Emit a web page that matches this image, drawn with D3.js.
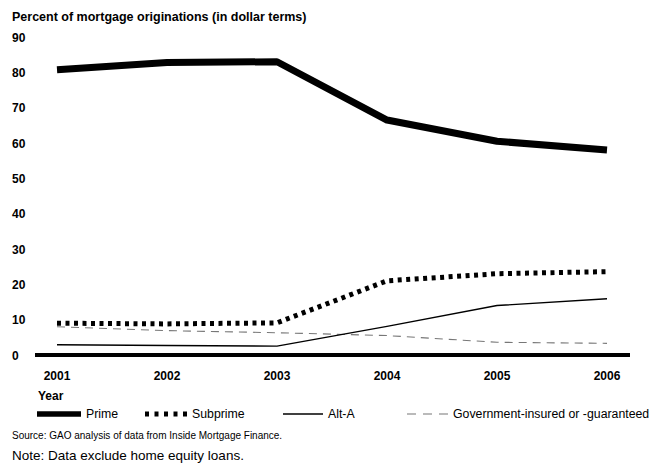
<!DOCTYPE html>
<html>
<head>
<meta charset="utf-8">
<script src="https://cdn.jsdelivr.net/npm/d3@7"></script>
<style>
  body { margin: 0; background: #fff; }
  text { font-family: "Liberation Sans", Arial, sans-serif; }
</style>
</head>
<body>
<svg width="661" height="464"></svg>
<script>
const years = [2001, 2002, 2003, 2004, 2005, 2006];
const prime = [80.7, 82.8, 83.0, 66.5, 60.5, 58.0];
const subprime = [9.0, 8.8, 9.1, 21.0, 23.0, 23.6];
const altA = [2.9, 2.7, 2.5, 8.1, 14.0, 15.9];
const government = [8.0, 6.9, 6.3, 5.5, 3.6, 3.3];
const yTicks = [0, 10, 20, 30, 40, 50, 60, 70, 80, 90];

const seriesList = [
    {name: "Prime", values: prime, width: 7, color: "#000", dash: null},
    {name: "Subprime", values: subprime, width: 5, color: "#000", dash: "4,4.5"},
    {name: "Alt-A", values: altA, width: 1.4, color: "#000", dash: null},
    {name: "Government-insured or -guaranteed", values: government, width: 1.1, color: "#777", dash: "8,6"}
];

const svg = d3.select("svg");

const x = d3.scalePoint().domain(years).range([57, 607]);
const y = d3.scaleLinear().domain([0, 90]).range([355, 37]);

svg.append("text")
    .attr("x", 12).attr("y", 21)
    .attr("font-size", 12.5).attr("font-weight", "bold")
    .text("Percent of mortgage originations (in dollar terms)");

// y tick labels
svg.append("g").selectAll("text").data(yTicks).join("text")
    .attr("x", 12).attr("y", d => y(d) + 4.5)
    .attr("font-size", 12).attr("font-weight", "bold")
    .text(d => d);

// x tick labels
svg.append("g").selectAll("text").data(years).join("text")
    .attr("x", d => x(d)).attr("y", 380)
    .attr("text-anchor", "middle")
    .attr("font-size", 12).attr("font-weight", "bold")
    .text(d => d);

svg.append("text")
    .attr("x", 38).attr("y", 400)
    .attr("font-size", 12).attr("font-weight", "bold")
    .text("Year");

const line = d3.line().x((d, i) => x(years[i])).y(d => y(d));

// lines, thin ones first so the thick ones sit on top
seriesList.slice().reverse().forEach(s => {
    svg.append("path")
        .datum(s.values)
        .attr("fill", "none")
        .attr("stroke", s.color)
        .attr("stroke-width", s.width)
        .attr("stroke-dasharray", s.dash)
        .attr("stroke-linejoin", "round")
        .attr("d", line);
});

// zero axis line
svg.append("line")
    .attr("x1", 35).attr("x2", 630)
    .attr("y1", y(0)).attr("y2", y(0))
    .attr("stroke", "#000").attr("stroke-width", 4);

// legend
const legendX = [37, 145, 283, 407];
const legendW = [44, 42, 40, 41];
const legendGap = [5, 5, 5, 5];
const legendDash = [null, "4,5.5", null, "9,7"];
const legend = svg.append("g").selectAll("g").data(seriesList).join("g")
    .attr("transform", (d, i) => `translate(${legendX[i]},418)`);
legend.append("line")
    .attr("x1", 0).attr("x2", (d, i) => legendW[i])
    .attr("y1", -4).attr("y2", -4)
    .attr("stroke", d => d.color)
    .attr("stroke-width", d => d.name === "Prime" ? 5.5 : d.width)
    .attr("stroke-dasharray", (d, i) => legendDash[i]);
legend.append("text")
    .attr("x", (d, i) => legendW[i] + legendGap[i])
    .attr("y", 0)
    .attr("font-size", 12.3)
    .text(d => d.name);

svg.append("text")
    .attr("x", 12).attr("y", 439)
    .attr("font-size", 10)
    .text("Source: GAO analysis of data from Inside Mortgage Finance.");

svg.append("text")
    .attr("x", 12).attr("y", 460)
    .attr("font-size", 13.5)
    .text("Note: Data exclude home equity loans.");
</script>
</body>
</html>
